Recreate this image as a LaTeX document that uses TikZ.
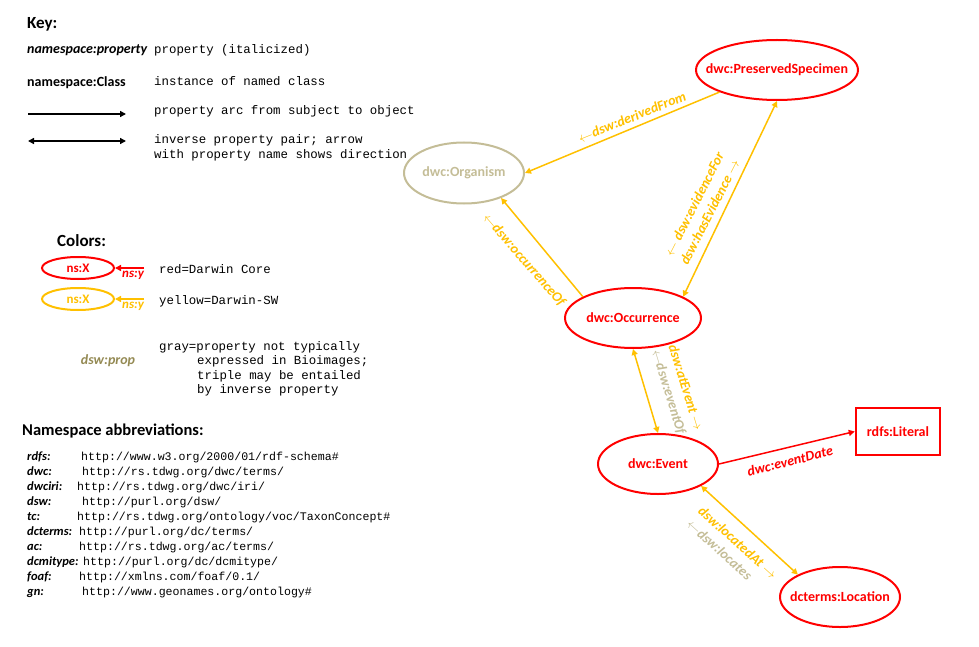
\documentclass[tikz,border=0pt]{standalone}
\usepackage{fontspec}
\setmainfont{Carlito}
\setmonofont{Liberation Mono}
\usetikzlibrary{shapes.geometric,arrows.meta}
\definecolor{dcred}{HTML}{FF0000}
\definecolor{swyel}{HTML}{FFC000}
\definecolor{tanc}{HTML}{C4BD97}
\definecolor{darktan}{HTML}{948A54}
\newcommand{\ctr}[1]{\makebox[0pt][c]{#1}}
\begin{document}
\begin{tikzpicture}[x=1pt,y=-1pt,
  cls/.style={ellipse, draw, line width=2pt, inner sep=0pt, minimum width=120pt, minimum height=60pt, font=\fontsize{14}{16}\selectfont\bfseries},
  prop/.style={font=\fontsize{14}{17.5}\selectfont\bfseries\itshape, inner sep=0pt},
  mono/.style={font=\fontsize{12.4}{15}\selectfont\ttfamily, anchor=base west, inner sep=0pt},
  nsmono/.style={font=\fontsize{11.6}{15}\selectfont\ttfamily, anchor=base west, inner sep=0pt},
  head/.style={font=\fontsize{17}{20}\selectfont\bfseries, anchor=base west, inner sep=0pt},
  keyb/.style={font=\fontsize{14}{16}\selectfont\bfseries, anchor=base west, inner sep=0pt},
  pfx/.style={font=\fontsize{12.5}{14}\selectfont\bfseries\itshape, anchor=base west, inner sep=0pt},
  arc/.style={line width=1.5pt, -{Triangle[length=6pt,width=6pt]}},
  darc/.style={line width=1.5pt, {Triangle[length=6pt,width=6pt]}-{Triangle[length=6pt,width=6pt]}},
  mini/.style={ellipse, draw, line width=2pt, inner sep=0pt, minimum width=72pt, minimum height=22pt, font=\fontsize{13}{15}\selectfont\bfseries},
]
\useasboundingbox (0,0) rectangle (979,647);

% ---------- Key ----------
\node[head] (key) at (27,29) {Key:};
\node[keyb, font=\fontsize{14}{16}\selectfont\bfseries\itshape] (knp) at (27,54) {namespace:property};
\node[mono] (kt1) at (154,54) {property (italicized)};
\node[keyb] (knc) at (27,87) {namespace:Class};
\node[mono] (kt2) at (154,86) {instance of named class};
\coordinate (a1s) at (28,114);
\coordinate (a1e) at (126,114);
\draw[arc] (a1s) -- (a1e);
\node[mono] (kt3) at (154,115) {property arc from subject to object};
\coordinate (a2s) at (28,141);
\coordinate (a2e) at (126,141);
\draw[darc] (a2s) -- (a2e);
\node[mono] (kt4) at (154,144) {inverse property pair; arrow};
\node[mono] (kt5) at (154,159) {with property name shows direction};

% ---------- Colors ----------
\node[head] (colors) at (57,246) {Colors:};
\node[mini, draw=dcred, text=dcred] (er) at (78,268) {\ctr{ns:X}};
\coordinate (crs) at (144,268);
\draw[arc, dcred] (crs) -- (er.east);
\node[pfx, font=\fontsize{13}{15}\selectfont\bfseries\itshape, text=dcred] (nyr) at (122,277) {ns:y};
\node[mono] (tred) at (159,273) {red=Darwin Core};
\node[mini, draw=swyel, text=swyel] (ey) at (78,299) {\ctr{ns:X}};
\coordinate (cys) at (144,299);
\draw[arc, swyel] (cys) -- (ey.east);
\node[pfx, font=\fontsize{13}{15}\selectfont\bfseries\itshape, text=swyel] (nyy) at (122,308) {ns:y};
\node[mono] (tyel) at (159,304) {yellow=Darwin-SW};
\node[prop, text=darktan, anchor=base] (dp) at (108,364) {dsw:prop};
\node[mono] (tg1) at (159,350) {gray=property not typically};
\node[mono] (tg2) at (197,364.5) {expressed in Bioimages;};
\node[mono] (tg3) at (197,379) {triple may be entailed};
\node[mono] (tg4) at (197,393.5) {by inverse property};

% ---------- Namespaces ----------
\node[head, font=\fontsize{16.5}{20}\selectfont\bfseries] (nsh) at (22,435) {Namespace abbreviations:};
\node[pfx] (p1) at (27,460) {rdfs:};      \node[nsmono] (u1) at (81,460) {http://www.w3.org/2000/01/rdf-schema\#};
\node[pfx] (p2) at (27,475) {dwc:};       \node[nsmono] (u2) at (82,475) {http://rs.tdwg.org/dwc/terms/};
\node[pfx] (p3) at (27,490) {dwciri:};    \node[nsmono] (u3) at (77,490) {http://rs.tdwg.org/dwc/iri/};
\node[pfx] (p4) at (27,505) {dsw:};       \node[nsmono] (u4) at (82,505) {http://purl.org/dsw/};
\node[pfx] (p5) at (27,520) {tc:};        \node[nsmono] (u5) at (77,520) {http://rs.tdwg.org/ontology/voc/TaxonConcept\#};
\node[pfx] (p6) at (27,535) {dcterms:};   \node[nsmono] (u6) at (79,535) {http://purl.org/dc/terms/};
\node[pfx] (p7) at (27,550) {ac:};        \node[nsmono] (u7) at (79,550) {http://rs.tdwg.org/ac/terms/};
\node[pfx] (p8) at (27,565) {dcmitype:};  \node[nsmono] (u8) at (83,565) {http://purl.org/dc/dcmitype/};
\node[pfx] (p9) at (27,580) {foaf:};      \node[nsmono] (u9) at (79,580) {http://xmlns.com/foaf/0.1/};
\node[pfx] (p10) at (27,595) {gn:};       \node[nsmono] (u10) at (82,595) {http://www.geonames.org/ontology\#};

% ---------- Graph ----------
\node[cls, draw=dcred, text=dcred, minimum width=162pt] (pres) at (777,70) {\ctr{\raisebox{-5pt}{dwc:PreservedSpecimen}}};
\node[cls, draw=tanc, text=tanc, minimum height=61pt] (org) at (464,173) {\ctr{\raisebox{-2pt}{dwc:Organism}}};
\node[cls, draw=dcred, text=dcred, minimum width=136pt] (occ) at (633,318) {\ctr{dwc:Occurrence}};
\node[cls, draw=dcred, text=dcred] (ev) at (658,464) {\ctr{dwc:Event}};
\node[cls, draw=dcred, text=dcred] (loc) at (840,597) {\ctr{dcterms:Location}};
\node[draw=dcred, line width=2.5pt, text=dcred, minimum width=84pt, minimum height=47pt, inner sep=0pt, font=\fontsize{14}{16}\selectfont\bfseries] (lit) at (898,431.5) {\ctr{rdfs:Literal}};

\draw[arc, swyel] (pres.201) -- (org.east);
\draw[arc, swyel] (occ.157) -- (org.326);
\draw[darc, swyel] (occ.23) -- (pres.south);
\draw[darc, swyel] (occ.south) -- (ev.north);
\draw[arc, dcred] (ev.east) -- (lit.west);
\draw[darc, swyel] (ev.333) -- (loc.152);

\node[prop, text=swyel, rotate=22] (l1) at (632,117) {$\leftarrow$dsw:derivedFrom};
\node[prop, text=swyel, rotate=-49] (l2) at (524,260) {$\leftarrow$dsw:occurrenceOf};
\node[prop, text=swyel, rotate=63, align=center] (l3) at (702,208) {$\leftarrow$ dsw:evidenceFor\\dsw:hasEvidence $\rightarrow$};
\node[prop, rotate=-73, align=left] (l4) at (677,390) {\textcolor{swyel}{dsw:atEvent $\rightarrow$}\\\textcolor{tanc}{$\leftarrow$dsw:eventOf}};
\node[prop, text=dcred, rotate=14] (l5) at (790,461) {dwc:eventDate};
\node[prop, rotate=-42, align=left] (l6) at (732,549) {\textcolor{swyel}{dsw:locatedAt $\rightarrow$}\\\textcolor{tanc}{$\leftarrow$dsw:locates}};
\end{tikzpicture}
\end{document}
